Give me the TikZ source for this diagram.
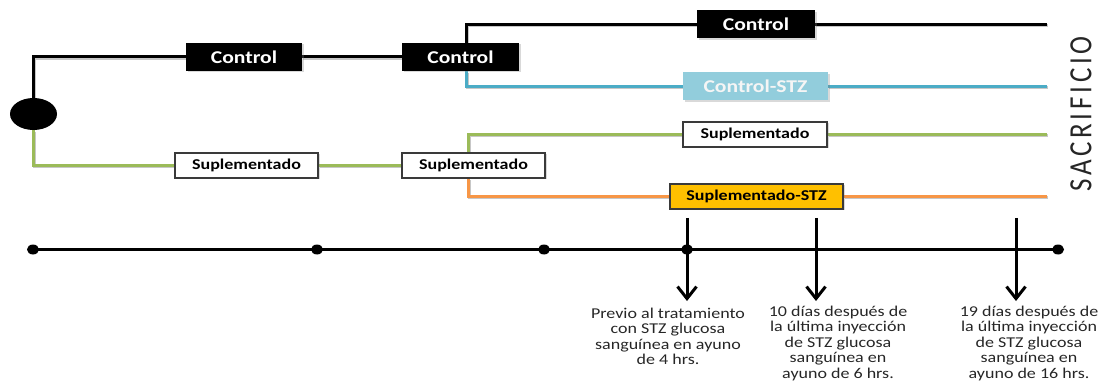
\documentclass[tikz,border=0pt]{standalone}
\usepackage{graphicx}
\usepackage{fontspec}
\setmainfont{Carlito}
\usetikzlibrary{arrows.meta,shapes.geometric,shadows,backgrounds}

\definecolor{lineGreen}{HTML}{9BBB59}
\definecolor{lineBlue}{HTML}{4BACC6}
\definecolor{lineOrange}{HTML}{F79646}
\definecolor{fillBlue}{HTML}{92CDDC}
\definecolor{fillYellow}{HTML}{FFC000}
\definecolor{boxEdge}{HTML}{3A3A3A}

% slightly widened lettering
\newcommand\widetext[1]{\scalebox{1.2}[1]{#1}}

\tikzset{
  groupline/.style={line width=3pt,
    preaction={draw=black!22, line width=3pt,
      transform canvas={xshift=1pt,yshift=-1.5pt}}},
  boxshadow/.style={drop shadow={shadow xshift=1.5pt,shadow yshift=-1.5pt,opacity=.3}},
  ctrlbox/.style={fill=black, text=white, inner sep=0pt, minimum height=28,
    font=\bfseries\fontsize{18}{18}\selectfont, boxshadow},
  stzbox/.style={fill=fillBlue, text=white!96!black, inner sep=0pt, minimum height=28,
    font=\bfseries\fontsize{18}{18}\selectfont, boxshadow},
  supbox/.style={draw=boxEdge, line width=1.2pt, fill=white, text=black, inner sep=0pt,
    minimum height=25, font=\bfseries\fontsize{15}{15}\selectfont, boxshadow},
  supstzbox/.style={supbox, fill=fillYellow},
  tdot/.style={ellipse, fill=black, inner sep=0pt, minimum width=12, minimum height=10},
  timeaxis/.style={line width=3pt},
  measure/.style={line width=3pt, -{Straight Barb[length=12pt,width=19pt]}},
  caption/.style={anchor=north, inner sep=0pt, text=black!85,
    font=\fontsize{15}{15.6}\selectfont}
}

\begin{document}
\begin{tikzpicture}[x=1pt,y=-1pt]
\useasboundingbox (0,0) rectangle (1099,387);

% starting point of both groups
\node[ellipse, fill=black, inner sep=0pt, minimum width=47, minimum height=32] (root) at (33.5,114) {};

% group boxes
\node[ctrlbox, minimum width=116] (c1) at (244,57) {\widetext{Control}};
\node[ctrlbox, minimum width=117] (c2) at (460.5,57) {\widetext{Control}};
\node[ctrlbox, minimum width=118] (c3) at (756,24.5) {\widetext{Control}};
\node[stzbox, minimum width=145] (cstz) at (755.5,86.5) {\widetext{Control-STZ}};

\node[supbox, minimum width=143] (s1) at (246.5,165.5) {\widetext{Suplementado}};
\node[supbox, minimum width=143] (s2) at (473.5,165.5) {\widetext{Suplementado}};
\node[supbox, minimum width=144] (s3) at (755,134.5) {\widetext{Suplementado}};
\node[supstzbox, minimum width=173] (sstz) at (756.5,196.5) {\widetext{Suplementado-STZ}};

% free ends of the group lines
\coordinate (e1) at (1047,24.5);
\coordinate (e2) at (1047,86.5);
\coordinate (e3) at (1047,134.5);
\coordinate (e4) at (1047,196.5);

\begin{scope}[on background layer]
% control branch
\draw[groupline] (root.north) |- (c1.west);
\draw[groupline] (c1.east) -- (c2.west);
\draw[groupline] ([xshift=5.5pt]c2.north) |- (c3.west);
\draw[groupline] (c3.east) -- (e1);
\draw[groupline, lineBlue] ([xshift=5.5pt]c2.south) |- (cstz.west);
\draw[groupline, lineBlue] (cstz.east) -- (e2);

% supplemented branch
\draw[groupline, lineGreen] (root.south) |- (s1.west);
\draw[groupline, lineGreen] (s1.east) -- (s2.west);
\draw[groupline, lineGreen] ([xshift=-5.5pt]s2.north) |- (s3.west);
\draw[groupline, lineGreen] (s3.east) -- (e3);
\draw[groupline, lineOrange] ([xshift=-5.5pt]s2.south) |- (sstz.west);
\draw[groupline, lineOrange] (sstz.east) -- (e4);
\end{scope}

% end label
\node[rotate=90, inner sep=0pt, text=black!85,
      font=\addfontfeature{LetterSpace=14}\fontsize{27}{27}\selectfont]
  (sac) at (1081,114) {\scalebox{1}[1.2]{SACRIFICIO}};

% time axis
\node[tdot] (d0) at (33,249.5) {};
\node[tdot] (d1) at (317,249.5) {};
\node[tdot] (d2) at (544,249.5) {};
\node[tdot] (d3) at (687,249.5) {};
\node[tdot] (d4) at (1058,249.5) {};
\begin{scope}[on background layer]
\draw[timeaxis] (d0.center) -- (d4.center);
\end{scope}

% glucose measurements
\coordinate (m1) at (687,218);  \coordinate (m1t) at (687,301);
\coordinate (m2) at (816,218);  \coordinate (m2t) at (816,301);
\coordinate (m3) at (1016,218); \coordinate (m3t) at (1016,301);
\draw[measure] (m1) -- (m1t);
\draw[measure] (m2) -- (m2t);
\draw[measure] (m3) -- (m3t);

\node[caption] (t1) at (668,307) {\widetext{\begin{tabular}{@{}c@{}}Previo al tratamiento\\con STZ glucosa\\sanguínea en ayuno\\de 4 hrs.\end{tabular}}};
\node[caption] (t2) at (838,305) {\widetext{\begin{tabular}{@{}c@{}}10 días después de\\la última inyección\\de STZ glucosa\\sanguínea en\\ayuno de 6 hrs.\end{tabular}}};
\node[caption] (t3) at (1029,305) {\widetext{\begin{tabular}{@{}c@{}}19 días después de\\la última inyección\\de STZ glucosa\\sanguínea en\\ayuno de 16 hrs.\end{tabular}}};
\end{tikzpicture}
\end{document}
